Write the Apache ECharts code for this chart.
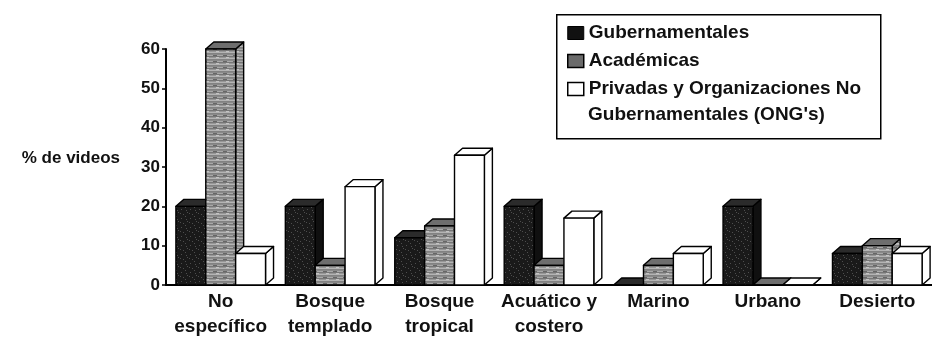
<!DOCTYPE html>
<html>
<head>
<meta charset="utf-8">
<script src="https://cdn.jsdelivr.net/npm/echarts@6/dist/echarts.min.js"></script>
<style>
  html, body { margin: 0; padding: 0; background: #fff; }
  #chart { width: 932px; height: 339px; }
</style>
</head>
<body>
<div id="chart"></div>
<script>
// Habitat categories on the x axis
const categories = ['No\nespecífico', 'Bosque\ntemplado', 'Bosque\ntropical', 'Acuático y\ncostero', 'Marino', 'Urbano', 'Desierto'];

// % of videos by producing institution
const gubernamentales = [20, 20, 12, 20, 0, 20, 8];
const academicas      = [60, 5, 15, 5, 5, 0, 10];
const privadas        = [8, 25, 33, 17, 8, 0, 8];

const privadasLines = ['Privadas y Organizaciones No', "Gubernamentales (ONG's)"];
const seriesNames = ['Gubernamentales', 'Académicas', privadasLines.join(' ')];

const yTicks = [0, 10, 20, 30, 40, 50, 60];
const yAxisTitle = '% de videos';

const FONT = '"Liberation Sans", Arial, Helvetica, sans-serif';

// Fill textures for the bar faces
function makePattern(w, h, draw) {
  const c = document.createElement('canvas');
  c.width = w; c.height = h;
  draw(c.getContext('2d'));
  return { image: c, repeat: 'repeat' };
}
const gubFill = makePattern(9, 9, ctx => {
  ctx.fillStyle = '#1a1a1a'; ctx.fillRect(0, 0, 9, 9);
  ctx.fillStyle = '#4e4e4e';
  [[1, 2], [5, 0], [7, 5], [3, 7], [0, 6], [6, 3]].forEach(p => ctx.fillRect(p[0], p[1], 1, 1));
});
const acadFill = makePattern(10, 6, ctx => {
  const rows = ['#8a8a8a', '#a8a8a8', '#767676', '#969696', '#b4b4b4', '#828282'];
  rows.forEach((c, i) => { ctx.fillStyle = c; ctx.fillRect(0, i, 10, 1); });
  ctx.fillStyle = '#666'; ctx.fillRect(3, 1, 4, 1);
  ctx.fillStyle = '#c4c4c4'; ctx.fillRect(6, 3, 3, 1);
});

const faces = [
  { front: gubFill, top: '#2b2b2b', side: '#101010' },
  { front: acadFill, top: '#6e6e6e', side: acadFill },
  { front: '#ffffff', top: '#ffffff', side: '#ffffff' }
];
const legendItemStyles = [
  { color: '#111', borderColor: '#000', borderWidth: 1 },
  { color: '#6a6a6a', borderColor: '#000', borderWidth: 1.5 },
  { color: '#fff', borderColor: '#000', borderWidth: 1.5 }
];

const BAR_FRACTION = 0.273; // width of one bar relative to the category band
const DEPTH_X = 8, DEPTH_Y = 7; // oblique 3D offset

function barRenderer(si) {
  const look = faces[si];
  return function (params, api) {
    const idx = api.value(0), v = api.value(1);
    const base = api.coord([idx, 0]);
    const head = api.coord([idx, v]);
    const band = api.size([1, 0])[0];
    const w = band * BAR_FRACTION;
    const x = base[0] - 1.5 * w + si * w;
    const yb = base[1], yt = head[1];
    const dx = DEPTH_X, dy = DEPTH_Y;
    const edge = { stroke: '#000', lineWidth: 1.4, lineJoin: 'round' };
    return {
      type: 'group',
      children: [
        { type: 'polygon', shape: { points: [[x + w, yt], [x + w + dx, yt - dy], [x + w + dx, yb - dy], [x + w, yb]] },
          style: Object.assign({ fill: look.side }, edge) },
        { type: 'polygon', shape: { points: [[x, yt], [x + dx, yt - dy], [x + w + dx, yt - dy], [x + w, yt]] },
          style: Object.assign({ fill: look.top }, edge) },
        { type: 'rect', shape: { x: x, y: yt, width: w, height: yb - yt },
          style: Object.assign({ fill: look.front }, edge) }
      ]
    };
  };
}

const seriesValues = [gubernamentales, academicas, privadas];

const chart = echarts.init(document.getElementById('chart'), null, { renderer: 'canvas' });
chart.setOption({
  animation: false,
  backgroundColor: '#fff',
  textStyle: { fontFamily: FONT },
  grid: { left: 166, top: 49, width: 769, height: 239, containLabel: false },
  xAxis: {
    type: 'category',
    data: categories,
    boundaryGap: true,
    axisLine: { lineStyle: { color: '#000', width: 2 } },
    axisTick: { show: false },
    axisLabel: { fontFamily: FONT, fontWeight: 'bold', fontSize: 19, color: '#111', lineHeight: 25, margin: 4, interval: 0 },
    splitLine: { show: false }
  },
  yAxis: {
    type: 'value',
    min: yTicks[0],
    max: yTicks[yTicks.length - 1],
    interval: yTicks[1] - yTicks[0],
    name: yAxisTitle,
    nameLocation: 'middle',
    nameRotate: 0,
    nameGap: 46,
    nameTextStyle: { fontFamily: FONT, fontWeight: 'bold', fontSize: 17, color: '#111', lineHeight: 17,
      verticalAlign: 'bottom', padding: [0, 0, 0, 0] },
    axisLine: { show: true, lineStyle: { color: '#000', width: 2 } },
    axisTick: { show: true, inside: false, length: 4, lineStyle: { color: '#000', width: 1.5 } },
    axisLabel: { fontFamily: FONT, fontWeight: 'bold', fontSize: 17, color: '#111', margin: 6 },
    splitLine: { show: false }
  },
  legend: {
    orient: 'vertical',
    left: 567,
    top: 22,
    padding: 0,
    itemGap: 6,
    itemWidth: 16,
    itemHeight: 13,
    selectedMode: false,
    data: seriesNames.map((n, i) => ({ name: n, icon: 'rect', itemStyle: legendItemStyles[i] })),
    formatter: n => (n === seriesNames[2] ? privadasLines[0] : n),
    textStyle: { fontFamily: FONT, fontWeight: 'bold', fontSize: 19, color: '#111', lineHeight: 22 }
  },
  graphic: [
    { type: 'rect', left: 556, top: 14, z: -1,
      shape: { width: 324, height: 124 },
      style: { fill: '#fff', stroke: '#000', lineWidth: 1.5 } },
    { type: 'text', left: 588, top: 105, z: 10,
      style: { text: privadasLines[1], font: 'bold 19px ' + FONT, fill: '#111' } }
  ],
  series: seriesNames.map((name, si) => ({
    type: 'custom',
    name: name,
    z: 2 + si,
    encode: { x: 0, y: 1 },
    itemStyle: { color: legendItemStyles[si].color },
    data: seriesValues[si].map((v, i) => [i, v]),
    renderItem: barRenderer(si)
  }))
});
</script>
</body>
</html>
